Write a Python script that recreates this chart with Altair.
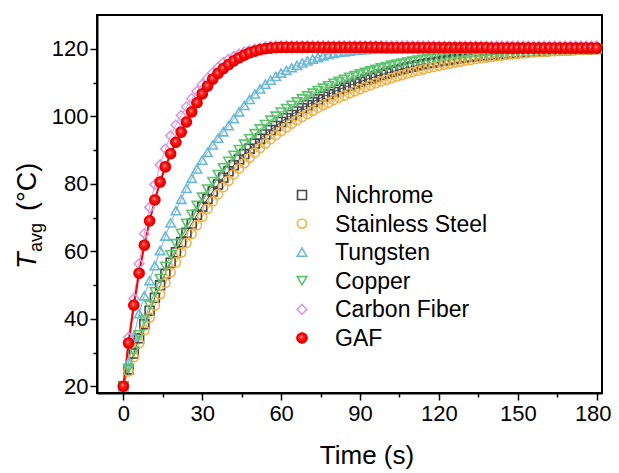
import altair as alt
import pandas as pd

time_s = list(range(0, 181, 2))

nichrome = [20.0, 25.0, 29.7, 34.2, 38.4, 42.4, 46.2, 49.9, 53.3, 56.6,
            59.7, 62.7, 65.5, 68.2, 70.8, 73.2, 75.5, 77.7, 79.8, 81.8,
            83.7, 85.5, 87.2, 88.8, 90.4, 91.9, 93.3, 94.6, 95.9, 97.1,
            98.3, 99.4, 100.4, 101.4, 102.4, 103.3, 104.2, 105.0, 105.8, 106.5,
            107.2, 107.9, 108.5, 109.1, 109.7, 110.2, 110.8, 111.3, 111.8, 112.3,
            112.7, 113.2, 113.6, 114.0, 114.4, 114.7, 115.1, 115.4, 115.7, 115.9,
            116.2, 116.5, 116.7, 117.0, 117.2, 117.4, 117.6, 117.8, 117.9, 118.1,
            118.2, 118.4, 118.5, 118.7, 118.8, 118.9, 119.0, 119.1, 119.2, 119.3,
            119.3, 119.4, 119.5, 119.6, 119.6, 119.6, 119.7, 119.8, 119.8, 119.9,
            119.9]

stainless = [20.0, 24.4, 28.6, 32.7, 36.6, 40.3, 43.9, 47.3, 50.6, 53.7,
             56.7, 59.6, 62.4, 65.1, 67.7, 70.2, 72.5, 74.8, 76.9, 79.0,
             80.9, 82.8, 84.5, 86.1, 87.7, 89.2, 90.6, 91.9, 93.2, 94.4,
             95.6, 96.7, 97.8, 98.8, 99.8, 100.7, 101.6, 102.5, 103.3, 104.0,
             104.8, 105.5, 106.1, 106.8, 107.4, 108.0, 108.6, 109.2, 109.8, 110.3,
             110.8, 111.3, 111.8, 112.2, 112.7, 113.1, 113.5, 113.9, 114.3, 114.6,
             115.0, 115.3, 115.6, 115.9, 116.2, 116.5, 116.7, 117.0, 117.2, 117.4,
             117.6, 117.8, 118.0, 118.2, 118.3, 118.5, 118.6, 118.8, 118.9, 119.0,
             119.1, 119.2, 119.3, 119.4, 119.5, 119.5, 119.6, 119.7, 119.7, 119.8,
             119.8]

tungsten = [20.0, 27.2, 34.8, 41.5, 46.8, 51.3, 55.7, 60.2, 64.5, 68.4,
            72.0, 75.4, 78.6, 81.6, 84.4, 87.0, 89.3, 91.5, 93.5, 95.4,
            97.2, 99.3, 101.3, 103.2, 105.0, 106.6, 108.1, 109.5, 110.7, 111.8,
            112.8, 113.6, 114.4, 115.1, 115.8, 116.4, 116.9, 117.4, 117.9, 118.3,
            118.6, 118.9, 119.1, 119.3, 119.5, 119.6, 119.7, 119.8, 119.9, 119.9,
            120.0, 120.0, 120.0, 120.0, 120.0, 120.0, 120.0, 120.0, 120.0, 120.0,
            120.0, 120.0, 120.0, 120.0, 120.0, 120.0, 120.0, 120.0, 120.0, 120.0,
            120.0, 120.0, 120.0, 120.0, 120.0, 120.0, 120.0, 120.0, 120.0, 120.0,
            120.0, 120.0, 120.0, 120.0, 120.0, 120.0, 120.0, 120.0, 120.0, 120.0,
            120.0]

copper = [20.0, 25.3, 30.4, 35.2, 39.7, 44.0, 48.0, 51.9, 55.5, 58.9,
          62.2, 65.3, 68.2, 70.9, 73.6, 76.0, 78.4, 80.6, 82.7, 84.7,
          86.6, 88.4, 90.1, 91.7, 93.3, 94.8, 96.2, 97.5, 98.8, 100.0,
          101.2, 102.2, 103.2, 104.2, 105.1, 106.0, 106.8, 107.6, 108.3, 109.0,
          109.7, 110.3, 110.9, 111.5, 112.0, 112.5, 113.0, 113.4, 113.9, 114.3,
          114.7, 115.1, 115.4, 115.7, 116.0, 116.3, 116.6, 116.8, 117.0, 117.2,
          117.4, 117.6, 117.8, 118.0, 118.1, 118.3, 118.4, 118.5, 118.6, 118.7,
          118.8, 118.9, 119.0, 119.1, 119.2, 119.3, 119.3, 119.4, 119.4, 119.5,
          119.5, 119.6, 119.6, 119.7, 119.7, 119.7, 119.8, 119.8, 119.8, 119.9,
          119.9]

carbon_fiber = [20.0, 34.5, 46.0, 56.3, 65.2, 73.0, 79.8, 85.6, 90.3, 94.2,
                97.4, 100.2, 102.8, 105.2, 107.4, 109.4, 111.2, 112.9, 114.5, 115.9,
                116.9, 117.7, 118.4, 119.0, 119.5, 119.9, 120.2, 120.5, 120.7, 120.8,
                120.9, 120.9, 120.9, 120.9, 120.9, 120.9, 120.9, 120.9, 120.9, 120.9,
                120.9, 120.9, 120.9, 120.9, 120.9, 120.9, 120.9, 120.9, 120.9, 120.9,
                120.9, 120.9, 120.9, 120.9, 120.9, 120.9, 120.9, 120.9, 120.9, 120.9,
                120.8, 120.8, 120.8, 120.8, 120.8, 120.8, 120.8, 120.8, 120.8, 120.8,
                120.8, 120.8, 120.8, 120.8, 120.8, 120.8, 120.8, 120.8, 120.8, 120.8,
                120.8, 120.8, 120.8, 120.8, 120.8, 120.8, 120.8, 120.8, 120.8, 120.8,
                120.8]

gaf = [20.0, 32.8, 44.0, 53.5, 61.8, 69.0, 75.2, 80.5, 85.0, 88.9,
       92.3, 95.3, 98.3, 101.3, 104.0, 106.6, 108.9, 111.0, 112.7, 114.1,
       115.3, 116.4, 117.3, 118.1, 118.8, 119.3, 119.7, 120.0, 120.2, 120.3,
       120.4, 120.4, 120.4, 120.4, 120.4, 120.4, 120.4, 120.4, 120.4, 120.4,
       120.4, 120.4, 120.4, 120.4, 120.4, 120.4, 120.4, 120.4, 120.4, 120.4,
       120.3, 120.3, 120.3, 120.3, 120.3, 120.3, 120.3, 120.3, 120.3, 120.3,
       120.3, 120.3, 120.3, 120.3, 120.3, 120.3, 120.3, 120.3, 120.3, 120.3,
       120.2, 120.2, 120.2, 120.2, 120.2, 120.2, 120.2, 120.2, 120.2, 120.2,
       120.2, 120.2, 120.2, 120.2, 120.2, 120.2, 120.2, 120.2, 120.2, 120.2,
       120.2]

series_names = ["Nichrome", "Stainless Steel", "Tungsten", "Copper", "Carbon Fiber", "GAF"]
series_values = [nichrome, stainless, tungsten, copper, carbon_fiber, gaf]
stroke_colors = ["#474747", "#f0b24a", "#6cb8d6", "#5cc46e", "#d79ce0", "#ff0000"]
fill_colors = ["transparent", "transparent", "transparent", "transparent", "transparent", "#ff0000"]
shapes = ["square", "circle", "triangle-up", "triangle-down", "diamond", "circle"]
sizes = [80, 100, 115, 115, 105, 120]
legend_rows = [0, 1, 2, 3, 4, 5]

x_major = [0, 30, 60, 90, 120, 150, 180]
x_minor = [15, 45, 75, 105, 135, 165]
y_major = [20, 40, 60, 80, 100, 120]
y_minor = [30, 50, 70, 90, 110]

rows = []
for k, (name, vals) in enumerate(zip(series_names, series_values)):
    for t, v in zip(time_s, vals):
        rows.append({"Time": t, "T": v, "Series": name, "k": k})
df = pd.DataFrame(rows)
df_gaf = df[df["Series"] == "GAF"]
leg_df = pd.DataFrame({"Series": series_names, "row": legend_rows})
leg_gaf = leg_df[leg_df["Series"] == "GAF"]

FONT = "Liberation Sans"
xscale = alt.Scale(domain=[-10, 182], nice=False, zero=False)
yscale = alt.Scale(domain=[18, 130], nice=False, zero=False)
rowscale = alt.Scale(domain=[0, 5], range=[180, 323])
stroke_scale = alt.Scale(domain=series_names, range=stroke_colors)
fill_scale = alt.Scale(domain=series_names, range=fill_colors)
shape_scale = alt.Scale(domain=series_names, range=shapes)
size_scale = alt.Scale(domain=series_names, range=sizes)

x_axis_major = alt.Axis(values=x_major, title=None, grid=False, labelFont=FONT, labelFontSize=22,
                        labelColor="black", tickColor="black", tickWidth=1.5, tickSize=7,
                        domainColor="black", domainWidth=2, labelPadding=3, labelFlush=False,
                        labelOverlap=False, format="d", orient="bottom",
                        labelOffset={"condition": {"test": "datum.value === 180", "value": -4}, "value": 0})
y_axis_major = alt.Axis(values=y_major, title=None, grid=False, labelFont=FONT, labelFontSize=22,
                        labelColor="black", tickColor="black", tickWidth=1.5, tickSize=7,
                        domainColor="black", domainWidth=2, labelPadding=2, labelFlush=False,
                        labelOverlap=False, format="d", orient="left")
x_axis_minor = alt.Axis(values=x_minor, title=None, grid=False, labels=False, domain=False,
                        tickColor="black", tickWidth=1.5, tickSize=4, orient="bottom")
y_axis_minor = alt.Axis(values=y_minor, title=None, grid=False, labels=False, domain=False,
                        tickColor="black", tickWidth=1.5, tickSize=4, orient="left")

lines = alt.Chart(df).mark_line(strokeWidth=1).encode(
    x=alt.X("Time:Q", scale=xscale, axis=x_axis_major),
    y=alt.Y("T:Q", scale=yscale, axis=y_axis_major),
    color=alt.Color("Series:N", scale=alt.Scale(domain=series_names, range=stroke_colors), legend=None),
    detail="Series:N",
)

gaf_line = alt.Chart(df_gaf).mark_line(strokeWidth=2, color="#ff0000").encode(
    x=alt.X("Time:Q", scale=xscale, axis=None),
    y=alt.Y("T:Q", scale=yscale, axis=None),
)

points = alt.Chart(df).mark_point(filled=False, strokeWidth=1.6, opacity=1).encode(
    x=alt.X("Time:Q", scale=xscale, axis=None),
    y=alt.Y("T:Q", scale=yscale, axis=None),
    stroke=alt.Stroke("Series:N", scale=stroke_scale, legend=None),
    fill=alt.Fill("Series:N", scale=fill_scale, legend=None),
    shape=alt.Shape("Series:N", scale=shape_scale, legend=None),
    size=alt.Size("Series:N", scale=size_scale, legend=None),
    order=alt.Order("k:Q"),
)

ball = {"gradient": "radial", "x1": 0.42, "y1": 0.38, "r1": 0.0, "x2": 0.5, "y2": 0.5, "r2": 0.55,
        "stops": [{"offset": 0.0, "color": "#ffe0e0"}, {"offset": 0.25, "color": "#ff3030"},
                  {"offset": 0.7, "color": "#f00000"}, {"offset": 1.0, "color": "#c80000"}]}
gaf_balls = alt.Chart(df_gaf).mark_point(filled=True, shape="circle", size=120, fill=ball,
                                         strokeWidth=0, opacity=1).encode(
    x=alt.X("Time:Q", scale=xscale, axis=None),
    y=alt.Y("T:Q", scale=yscale, axis=None),
)

minor = alt.Chart(df_gaf).mark_point(opacity=0).encode(
    x=alt.X("Time:Q", scale=xscale, axis=x_axis_minor),
    y=alt.Y("T:Q", scale=yscale, axis=y_axis_minor),
)

# legend (inside plot)
leg_sym = alt.Chart(leg_df).mark_point(filled=False, strokeWidth=1.6, opacity=1).encode(
    x=alt.value(205),
    y=alt.Y("row:Q", scale=rowscale, axis=None),
    stroke=alt.Stroke("Series:N", scale=stroke_scale, legend=None),
    fill=alt.Fill("Series:N", scale=fill_scale, legend=None),
    shape=alt.Shape("Series:N", scale=shape_scale, legend=None),
    size=alt.Size("Series:N", scale=size_scale, legend=None),
)
leg_ball = alt.Chart(leg_gaf).mark_point(filled=True, shape="circle", size=120, fill=ball,
                                        strokeWidth=0, opacity=1).encode(
    x=alt.value(205),
    y=alt.Y("row:Q", scale=rowscale, axis=None),
)
leg_txt = alt.Chart(leg_df).mark_text(font=FONT, fontSize=23, align="left", baseline="middle",
                                      color="black", dy=1).encode(
    x=alt.value(238),
    y=alt.Y("row:Q", scale=rowscale, axis=None),
    text="Series:N",
)

x_title = alt.Chart(pd.DataFrame({"s": ["Time (s)"]})).mark_text(
    font=FONT, fontSize=26, align="center", baseline="alphabetic", color="black"
).encode(text="s:N", x=alt.value(270), y=alt.value(449))

yt_T = alt.Chart(pd.DataFrame({"s": ["T"]})).mark_text(
    font=FONT, fontSize=27, fontStyle="italic", angle=270, align="left", baseline="alphabetic", color="black"
).encode(text="s:N", x=alt.value(-61), y=alt.value(254))
yt_avg = alt.Chart(pd.DataFrame({"s": ["avg"]})).mark_text(
    font=FONT, fontSize=18, angle=270, align="left", baseline="alphabetic", color="black"
).encode(text="s:N", x=alt.value(-55), y=alt.value(237))
yt_unit = alt.Chart(pd.DataFrame({"s": ["(°C)"]})).mark_text(
    font=FONT, fontSize=27, angle=270, align="left", baseline="alphabetic", color="black"
).encode(text="s:N", x=alt.value(-61), y=alt.value(196))

chart = alt.layer(
    minor, lines, gaf_line, points, gaf_balls, leg_sym, leg_ball, leg_txt,
    x_title, yt_T, yt_avg, yt_unit
).resolve_axis(x="independent", y="independent").resolve_scale(y="independent").properties(
    width=505, height=378,
    autosize=alt.AutoSizeParams(type="none"),
    padding={"left": 89, "top": 7, "right": 9, "bottom": 78},
).configure_view(stroke="black", strokeWidth=2)

chart.save("out.html", embed_options={"renderer": "svg", "actions": False})
